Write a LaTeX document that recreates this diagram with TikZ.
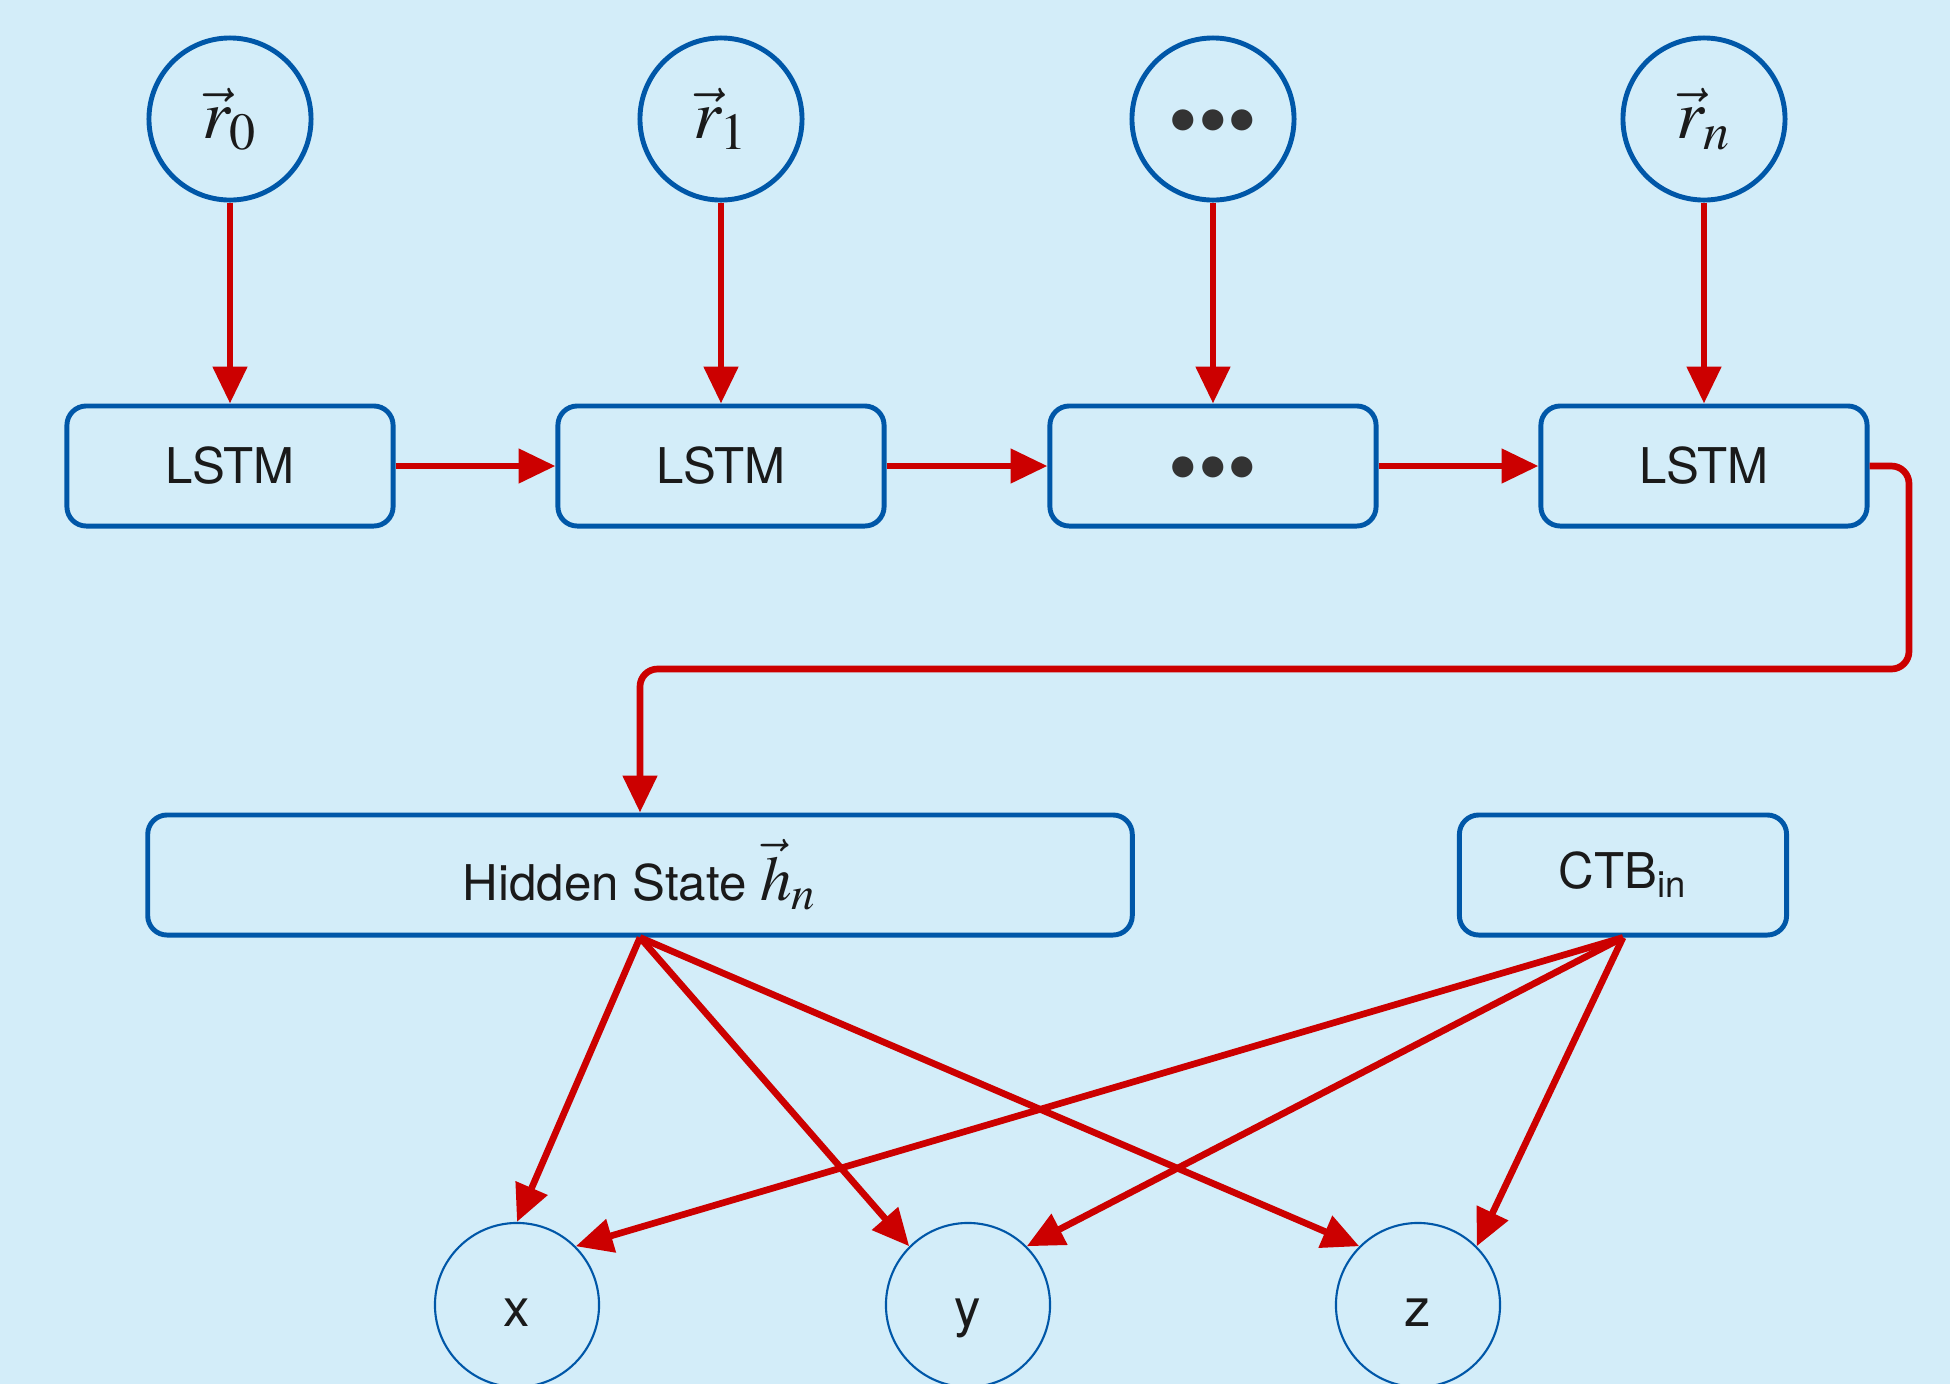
\documentclass[tikz,border=0pt]{standalone}
\usepackage{mathptmx}
\usepackage{fontspec}
\setmainfont{TeX Gyre Heros}
\usetikzlibrary{arrows.meta}
\definecolor{bg}{HTML}{D3EDF9}
\definecolor{bl}{HTML}{0057A8}
\definecolor{rd}{HTML}{CC0000}
\definecolor{tx}{HTML}{1A1A1A}
\definecolor{dt}{HTML}{333333}
\newcommand{\threedots}{\smash{\raisebox{-0.36em}{\textcolor{dt}{\textbullet\textbullet\textbullet}}}}
\newcommand{\lowlbl}[1]{\smash{\raisebox{-0.4em}{#1}}}
\begin{document}
\begin{tikzpicture}[x=0.01cm,y=-0.01cm,
 box/.style={draw=bl,line width=1.4pt,rounded corners=5.5pt,minimum height=1.2cm,inner sep=0pt,text=tx,font=\fontsize{14}{16}\selectfont},
 lstm/.style={box,minimum width=3.26cm},
 incirc/.style={circle,draw=bl,line width=1.4pt,minimum size=1.62cm,inner sep=0pt,text=tx,font=\fontsize{20}{22}\selectfont},
 outcirc/.style={circle,draw=bl,line width=0.6pt,minimum size=1.64cm,inner sep=0pt,text=tx,font=\fontsize{15}{17}\selectfont},
 arr/.style={draw=rd,line width=1.9pt,-{Triangle[length=10.5pt,width=9.5pt]}},
 dots/.style={font=\fontsize{24}{24}\selectfont},
]
\fill[bg] (0,0) rectangle (1950,1384);
\clip (0,0) rectangle (1950,1384);

\node[incirc] (r0) at (230,119) {$\vec{r}_0$};
\node[incirc] (r1) at (721,119) {$\vec{r}_1$};
\node[incirc,dots] (rd) at (1213,119) {\threedots};
\node[incirc] (rn) at (1704,119) {$\vec{r}_n$};

\node[lstm] (l0) at (230,466) {LSTM};
\node[lstm] (l1) at (721,466) {LSTM};
\node[lstm,dots] (ld) at (1213,466) {\threedots};
\node[lstm] (ln) at (1704,466) {LSTM};

\node[box,minimum width=9.84cm] (hs) at (640,875) {\raisebox{-0.15em}{Hidden State {\fontsize{18}{18}\selectfont$\vec{h}_n$}}};
\node[box,minimum width=3.27cm] (ctb) at (1623,875) {CTB\textsubscript{in}};

\node[outcirc] (x) at (517,1305) {\lowlbl{x}};
\node[outcirc] (y) at (968,1305) {\lowlbl{y}};
\node[outcirc] (z) at (1418,1305) {\lowlbl{z}};

\foreach \a/\b in {r0/l0,r1/l1,rd/ld,rn/ln} \draw[arr] (\a) -- (\b);
\draw[arr] (l0) -- (l1);
\draw[arr] (l1) -- (ld);
\draw[arr] (ld) -- (ln);
\draw[arr,rounded corners=5pt] (ln.east) -| (1909,669) -| (hs.north);

\draw[arr] (hs.south) -- (x.north);
\draw[arr] (hs.south) -- (y.north west);
\draw[arr] (hs.south) -- (z.north west);
\draw[arr] (ctb.south) -- (x.north east);
\draw[arr] (ctb.south) -- (y.north east);
\draw[arr] (ctb.south) -- (z.north east);
\end{tikzpicture}
\end{document}
